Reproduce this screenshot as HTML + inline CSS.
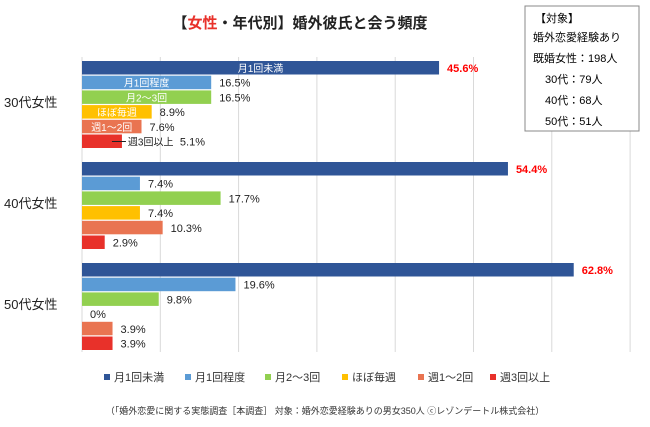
<!DOCTYPE html>
<html><head><meta charset="utf-8"><style>
body{margin:0;background:#fff;font-family:"Liberation Sans","Noto Sans CJK JP",sans-serif;}
svg text{font-family:"Liberation Sans","Noto Sans CJK JP",sans-serif;}
</style></head><body>
<svg id="chartsvg" width="650" height="422" viewBox="0 0 650 422" xmlns="http://www.w3.org/2000/svg">
<text x="300" y="28" text-anchor="middle" font-size="15" font-weight="bold" fill="#222">【<tspan fill="#e8312a">女性</tspan>・年代別】婚外彼氏と会う頻度</text>
<g id="grid"></g><g id="bars"></g>
<g>
<rect x="525" y="6" width="114" height="125" fill="#fff" stroke="#888"/>
<text x="535" y="22" font-size="11">【対象】</text>
<text x="533" y="41" font-size="11">婚外恋愛経験あり</text>
<text x="533" y="62" font-size="11">既婚女性：198人</text>
<text x="545" y="83" font-size="11">30代：79人</text>
<text x="545" y="104" font-size="11">40代：68人</text>
<text x="545" y="125" font-size="11">50代：51人</text>
</g>
<g id="legend"></g>
<text x="325" y="414" text-anchor="middle" font-size="9" fill="#333">（「婚外恋愛に関する実態調査［本調査］ 対象：婚外恋愛経験ありの男女350人 ⓒレゾンデートル株式会社）</text>
</svg>
<script>
const categories=["30代女性","40代女性","50代女性"];
const seriesNames=["月1回未満","月1回程度","月2～3回","ほぼ毎週","週1～2回","週3回以上"];
const s0=[45.6,54.4,62.8];
const s1=[16.5,7.4,19.6];
const s2=[16.5,17.7,9.8];
const s3=[8.9,7.4,0];
const s4=[7.6,10.3,3.9];
const s5=[5.1,2.9,3.9];
const ticks=[0,10,20,30,40,50,60,70];
const series=[s0,s1,s2,s3,s4,s5];
const colors=["#2f5597","#5b9bd5","#92d050","#ffc000","#e97451","#e8312a"];
const NS="http://www.w3.org/2000/svg";
const x0=82,ppu=7.83,yTop=57,yBot=352;
const xs=v=>x0+v*ppu;
function mk(t,a,p){const e=document.createElementNS(NS,t);for(const k in a)e.setAttribute(k,a[k]);p.appendChild(e);return e;}
const grid=document.getElementById('grid');
ticks.forEach(t=>{const l=mk('line',{x1:xs(t),x2:xs(t),y1:yTop,y2:yBot,stroke:'#d9d9d9','stroke-width':1},grid);

});
const bars=document.getElementById('bars');
const gy=[61,162,263],rp=14.7,bh=13.5;
categories.forEach((c,ci)=>{
 const t=mk('text',{x:4,y:gy[ci]+46,'font-size':13,fill:'#222'},bars);t.textContent=c;
 
 
 series.forEach((s,si)=>{
  const v=s[ci],y=gy[ci]+si*rp;
  const r=mk('rect',{x:x0,y:y,width:Math.max(0,xs(v)-x0),height:bh,fill:colors[si]},bars);
  
  
  let lx=xs(v)+8;
  if(ci===0){
   if(si<5){const n=mk('text',{x:x0+(xs(v)-x0)/2,y:y+11,'font-size':10,fill:'#fff','text-anchor':'middle'},bars);n.textContent=seriesNames[si];}
   else{mk('line',{x1:xs(v)-10,x2:xs(v)+4,y1:y+7,y2:y+7,stroke:'#222'},bars);const n=mk('text',{x:xs(v)+6,y:y+11,'font-size':10,fill:'#222'},bars);n.textContent=seriesNames[si];lx=xs(v)+58;}
  }
  const vl=mk('text',{x:lx,y:y+11,'font-size':11,fill:si===0?'#ff0000':'#222','font-weight':si===0?'bold':'normal'},bars);
  vl.textContent=(v===0?'0':v.toFixed(1))+'%';
  
  
 });
});
const lg=document.getElementById('legend');
const lx=[104,185,265,342,418,490];
seriesNames.forEach((n,i)=>{
 const g=mk('g',{},lg);
 
 
 mk('rect',{x:lx[i],y:374,width:6,height:6,fill:colors[i]},g);
 const t=mk('text',{x:lx[i]+10,y:381,'font-size':11,fill:'#333'},g);t.textContent=n;
});
</script>
</body></html>
